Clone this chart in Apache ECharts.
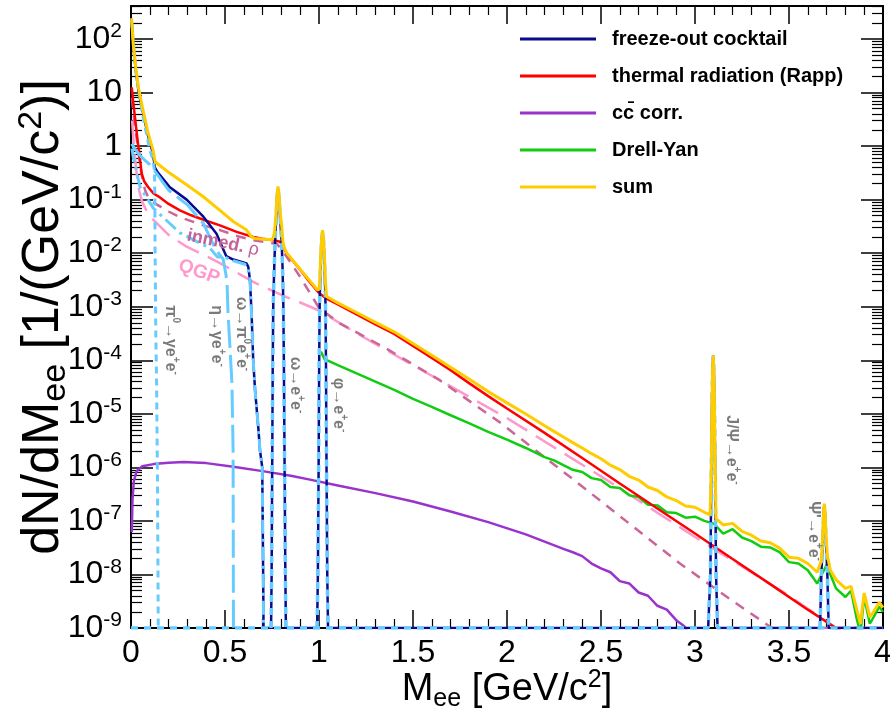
<!DOCTYPE html>
<html><head><meta charset="utf-8">
<script src="https://cdn.jsdelivr.net/npm/echarts@6/dist/echarts.min.js"></script>
<style>html,body{margin:0;padding:0;background:#fff}#c{width:890px;height:717px}</style>
</head><body><div id="c"></div>
<script>
// ---------------- data (M_ee [GeV/c^2], dN/dM_ee) ----------------
const xTickValues = [0, 0.5, 1, 1.5, 2, 2.5, 3, 3.5, 4];
const yDecades = [1e-9, 1e-8, 1e-7, 1e-6, 1e-5, 1e-4, 1e-3, 1e-2, 1e-1, 1, 10, 100];
const legendNames = ['freeze-out cocktail', 'thermal radiation (Rapp)', 'cc\u0304 corr.', 'Drell-Yan', 'sum'];

const cocktail = [[0.003,230],[0.012,75],[0.025,27],[0.04,10.5],[0.064,4.2],[0.09,1.6],[0.117,0.72],[0.127,0.40],[0.14,0.33],[0.207,0.17],[0.296,0.10],[0.385,0.048],[0.455,0.023],[0.49,0.012],[0.507,0.0088],[0.544,0.0076],[0.58,0.0070],[0.615,0.0064],[0.624,0.0055],[0.633,0.0031],[0.642,6.5e-4],[0.65,1e-4],[0.66,2.75e-5],[0.677,5.6e-6],[0.686,2.1e-6],[0.698,1e-6],[0.703,1e-8],[0.705,1e-9],
 [0.745,1e-9],[0.748,1e-8],[0.751,1e-6],[0.754,1e-4],[0.757,1.3e-3],[0.762,0.0055],[0.767,0.0176],[0.772,0.045],[0.777,0.11],[0.782,0.16],[0.787,0.11],[0.792,0.055],[0.797,0.028],[0.801,0.0176],[0.806,0.0055],[0.810,1.3e-3],[0.813,1e-4],[0.817,1e-6],[0.821,1e-8],[0.824,1e-9],
 [0.99,1e-9],[0.994,1e-8],[0.998,1e-6],[1.001,1e-4],[1.004,1.5e-3],[1.009,7e-3],[1.014,0.017],[1.019,0.025],[1.024,0.017],[1.029,7e-3],[1.034,1.5e-3],[1.037,1e-4],[1.040,1e-6],[1.044,1e-8],[1.048,1e-9],
 [3.07,1e-9],[3.082,1e-8],[3.087,1e-6],[3.091,2e-5],[3.094,7e-5],[3.097,1.22e-4],[3.1,7e-5],[3.103,2e-5],[3.107,1e-6],[3.112,1e-8],[3.12,1e-9],
 [3.665,1e-9],[3.672,1e-8],[3.68,5e-8],[3.684,1.3e-7],[3.688,1.9e-7],[3.692,1.3e-7],[3.696,5e-8],[3.704,1e-8],[3.711,1e-9],[4.0,1e-9]];

const pi0Dalitz = [[0.003,220],[0.025,25],[0.064,3.5],[0.10,0.85],[0.117,0.55],[0.125,0.35],[0.127,0.1],[0.128,0.011],[0.132,3e-4],[0.136,4e-5],[0.141,5e-7],[0.145,1e-9]];
const etaDalitz = [[0.003,1.1],[0.03,0.8],[0.06,0.6],[0.1,0.45],[0.13,0.33],[0.2,0.15],[0.3,0.08],[0.385,0.036],[0.44,0.014],[0.47,0.0095],[0.49,0.0078],[0.505,0.004],[0.511,2.8e-3],[0.516,7.6e-4],[0.527,1.6e-4],[0.537,3.7e-5],[0.543,2.1e-6],[0.545,1e-9]];
const omegaDalitz = [[0.005,0.9],[0.012,0.63],[0.048,0.17],[0.119,0.069],[0.26,0.024],[0.42,0.0124],[0.46,0.0085],[0.507,0.0082],[0.544,0.0072],[0.606,0.0062],[0.624,0.0053],[0.633,0.0031],[0.642,6e-4],[0.65,1e-4],[0.66,2.75e-5],[0.677,5.6e-6],[0.686,2.1e-6],[0.698,1e-6],[0.703,1e-8],[0.705,1e-9]];
const omegaEE = [[0.745,1e-9],[0.748,1e-8],[0.751,1e-6],[0.754,1e-4],[0.757,1.3e-3],[0.762,0.0055],[0.767,0.0176],[0.772,0.045],[0.777,0.11],[0.782,0.16],[0.787,0.11],[0.792,0.055],[0.797,0.028],[0.801,0.0176],[0.806,0.0055],[0.810,1.3e-3],[0.813,1e-4],[0.817,1e-6],[0.821,1e-8],[0.824,1e-9]];
const phiEE = [[0.99,1e-9],[0.994,1e-8],[0.998,1e-6],[1.001,1e-4],[1.004,1.5e-3],[1.009,7e-3],[1.014,0.017],[1.019,0.025],[1.024,0.017],[1.029,7e-3],[1.034,1.5e-3],[1.037,1e-4],[1.040,1e-6],[1.044,1e-8],[1.048,1e-9]];
const jpsiEE = [[0,1e-9],[3.07,1e-9],[3.082,1e-8],[3.087,1e-6],[3.091,2e-5],[3.094,7e-5],[3.097,1.22e-4],[3.1,7e-5],[3.103,2e-5],[3.107,1e-6],[3.112,1e-8],[3.12,1e-9],[4.0,1e-9]];
const psi2sEE = [[3.665,1e-9],[3.672,1e-8],[3.68,5e-8],[3.684,1.3e-7],[3.688,1.9e-7],[3.692,1.3e-7],[3.696,5e-8],[3.704,1e-8],[3.711,1e-9]];

const thermal = [[0.004,12.5],[0.012,6.5],[0.021,3.5],[0.03,1.8],[0.039,1.0],[0.048,0.55],[0.057,0.31],[0.07,0.22],[0.092,0.17],[0.12,0.13],[0.154,0.11],[0.2,0.083],[0.26,0.063],[0.32,0.051],[0.385,0.042],[0.473,0.033],[0.562,0.025],[0.65,0.020],[0.70,0.0186],[0.757,0.0175],[0.793,0.0163],[0.81,0.013],[0.828,0.0099],[0.9,0.0049],[0.95,0.0029],[1.0,0.0018],[1.04,0.00141],[1.1,1.10e-3],[1.2,7.2e-4],[1.3,4.7e-4],[1.4,3.1e-4],[1.5,1.86e-4],[1.6,1.10e-4],[1.7,6.5e-5],[1.8,3.7e-5],[1.9,2.14e-5],[2.0,1.26e-5],[2.2,4.4e-6],[2.4,1.5e-6],[2.6,5.0e-7],[2.8,1.7e-7],[3.0,5.8e-8],[3.2,1.95e-8],[3.4,6.6e-9],[3.6,2.2e-9],[3.75,1.0e-9],[3.8,7.6e-10]];
const inmedRho = [[0.005,8],[0.012,4.5],[0.02,2.5],[0.03,1.4],[0.039,0.8],[0.05,0.4],[0.06,0.25],[0.075,0.15],[0.092,0.11],[0.12,0.088],[0.154,0.075],[0.2,0.06],[0.26,0.047],[0.385,0.033],[0.473,0.027],[0.562,0.021],[0.65,0.0175],[0.72,0.016],[0.775,0.015],[0.80,0.012],[0.83,0.0084],[0.9,0.0036],[1.0,9.5e-4],[1.11,4.9e-4],[1.34,1.8e-4],[1.64,4.3e-5],[1.96,7e-6],[2.4,4.4e-7],[2.92,1.6e-8],[3.2,3.2e-9],[3.41,1e-9],[4.0,1e-9]];
const qgp = [[0.006,3.0],[0.015,1.0],[0.025,0.45],[0.039,0.17],[0.06,0.09],[0.09,0.055],[0.119,0.042],[0.2,0.022],[0.296,0.0132],[0.4,0.0088],[0.473,0.0065],[0.55,0.0046],[0.65,0.0029],[0.75,0.0020],[0.83,0.0015],[0.9,0.0012],[1.0,8.5e-4],[1.2,3.2e-4],[1.5,8.1e-5],[2.0,8.3e-6],[2.5,6.8e-7],[3.0,5e-8],[3.5,4e-9],[3.75,1e-9],[4.0,1e-9]];
const ccbar = [[0.004,6.2e-8],[0.008,2.5e-7],[0.015,5.5e-7],[0.03,8.5e-7],[0.06,1.05e-6],[0.12,1.15e-6],[0.2,1.22e-6],[0.28,1.26e-6],[0.4,1.2e-6],[0.544,1.03e-6],[0.7,8.5e-7],[0.85,7e-7],[0.952,5.9e-7],[1.1,4.6e-7],[1.3,3.3e-7],[1.5,2.3e-7],[1.7,1.5e-7],[1.9,9.5e-8],[2.1,5.6e-8],[2.3,3.0e-8],[2.35,2.6e-8],[2.4,2.2e-8],[2.45,1.6e-8],[2.5,1.3e-8],[2.55,1.1e-8],[2.6,7.5e-9],[2.65,6.8e-9],[2.7,4.6e-9],[2.75,4.0e-9],[2.8,2.6e-9],[2.85,2.2e-9],[2.9,1.4e-9],[2.94,1.1e-9],[2.97,8e-10]];
const drellYan = [[1.01,1.45e-4],[1.03,1.05e-4],[1.1,8.1e-5],[1.2,5.7e-5],[1.3,4.0e-5],[1.4,2.8e-5],[1.5,1.9e-5],[1.6,1.35e-5],[1.7,9.4e-6],[1.8,6.6e-6],[1.9,4.6e-6],[2.0,3.3e-6],[2.1,2.3e-6],[2.2,1.55e-6],[2.25,1.35e-6],[2.30,1.10e-6],[2.35,9.0e-7],[2.40,8.2e-7],[2.45,6.3e-7],[2.50,5.8e-7],[2.55,4.3e-7],[2.60,4.1e-7],[2.65,3.0e-7],[2.70,2.8e-7],[2.75,2.0e-7],[2.80,1.95e-7],[2.85,1.45e-7],[2.90,1.40e-7],[2.95,1.15e-7],[3.00,1.20e-7],[3.05,1.0e-7],[3.10,8.9e-8],[3.15,5.8e-8],[3.20,7.0e-8],[3.25,4.9e-8],[3.30,4.2e-8],[3.35,3.3e-8],[3.40,3.2e-8],[3.45,2.6e-8],[3.50,1.7e-8],[3.55,1.6e-8],[3.60,1.2e-8],[3.65,6.8e-9],[3.70,1.5e-8],[3.75,5.5e-9],[3.80,3.8e-9],[3.83,5.0e-9],[3.86,1.5e-9],[3.88,8e-10],[3.90,3.8e-9],[3.93,1.2e-9],[3.95,1.6e-9],[3.98,2.5e-9],[4.00,2.0e-9]];
const sumAll = [[0.003,245],[0.012,80],[0.025,30],[0.04,12],[0.064,4.7],[0.09,1.8],[0.117,0.85],[0.128,0.51],[0.207,0.31],[0.296,0.19],[0.385,0.113],[0.473,0.063],[0.544,0.039],[0.615,0.027],[0.642,0.020],[0.66,0.0188],[0.70,0.0183],[0.752,0.0178],[0.757,0.019],[0.762,0.023],[0.767,0.035],[0.772,0.062],[0.777,0.127],[0.782,0.177],[0.787,0.127],[0.792,0.072],[0.797,0.045],[0.801,0.034],[0.806,0.02],[0.81,0.015],[0.815,0.0128],[0.828,0.0101],[0.9,0.0050],[0.99,0.0021],[1.001,0.0021],[1.004,0.0032],[1.009,0.0088],[1.014,0.0187],[1.019,0.027],[1.024,0.0187],[1.029,0.0087],[1.034,0.0031],[1.04,0.00155],[1.1,1.18e-3],[1.2,7.8e-4],[1.3,5.1e-4],[1.4,3.4e-4],[1.5,2.05e-4],[1.6,1.24e-4],[1.7,7.4e-5],[1.8,4.4e-5],[1.9,2.6e-5],[2.0,1.6e-5],[2.1,9.9e-6],[2.2,6.0e-6],[2.25,4.7e-6],[2.3,3.7e-6],[2.35,2.9e-6],[2.4,2.3e-6],[2.45,1.8e-6],[2.5,1.45e-6],[2.55,1.1e-6],[2.6,9.1e-7],[2.65,6.8e-7],[2.7,5.8e-7],[2.75,4.3e-7],[2.8,3.7e-7],[2.85,2.8e-7],[2.9,2.4e-7],[2.95,1.9e-7],[3.0,1.8e-7],[3.05,1.45e-7],[3.08,1.3e-7],[3.087,1.1e-6],[3.091,2e-5],[3.094,7e-5],[3.097,1.24e-4],[3.1,7e-5],[3.103,2e-5],[3.107,1.1e-6],[3.112,1.1e-7],[3.15,8.4e-8],[3.2,9.0e-8],[3.25,6.4e-8],[3.3,5.4e-8],[3.35,4.2e-8],[3.4,3.9e-8],[3.45,3.1e-8],[3.5,2.1e-8],[3.55,2.0e-8],[3.6,1.6e-8],[3.65,1.1e-8],[3.672,1.8e-8],[3.68,6e-8],[3.684,1.45e-7],[3.688,2.1e-7],[3.692,1.45e-7],[3.696,6.5e-8],[3.704,2.3e-8],[3.72,1.2e-8],[3.75,8e-9],[3.8,5.5e-9],[3.83,6e-9],[3.86,2.2e-9],[3.88,1.2e-9],[3.9,4.5e-9],[3.93,1.6e-9],[3.95,2.0e-9],[3.98,3.0e-9],[4.0,2.4e-9]];

// ---------------- chart ----------------
const FONT = '"Liberation Sans", Arial, Helvetica, sans-serif';
const yMinor = [];
yDecades.forEach(d => { for (let k = 2; k <= 9; k++) { const v = d * k; if (v < 413) yMinor.push(v); } });

function powLabel(v) {
  const e = Math.round(Math.log10(v));
  if (Math.abs(Math.log10(v) - e) > 1e-6) return '';
  if (e === 0) return '{b|1}';
  if (e === 1) return '{b|10}';
  return '{b|10}{s|' + e + '}';
}

const LB = '#66CCFF', NAVY = '#0A0A8C';
function line(name, data, color, width, type, extra) {
  return Object.assign({
    name, type: 'line', data, color, showSymbol: false, symbol: 'none', animation: false, silent: true,
    xAxisIndex: 0, yAxisIndex: 0, clip: true,
    lineStyle: { color, width, type: type || 'solid' }
  }, extra || {});
}

const yBase = { type: 'log', logBase: 10, min: 1e-9, max: 413, splitLine: { show: false }, minorTick: { show: false } };
const blackLine = { show: true, lineStyle: { color: '#000', width: 2 } };

const option = {
  animation: false,
  backgroundColor: '#fff',
  grid: { left: 131, right: 7, top: 6, bottom: 89, containLabel: false, outerBoundsMode: 'none' },
  xAxis: [
    { type: 'value', min: xTickValues[0], max: xTickValues[xTickValues.length - 1], interval: xTickValues[1] - xTickValues[0], position: 'bottom',
      axisLine: blackLine, splitLine: { show: false },
      axisTick: { show: true, inside: true, length: 18, lineStyle: { color: '#000', width: 1.5 } },
      minorTick: { show: true, splitNumber: 5, length: 9, lineStyle: { color: '#000', width: 1.2 } },
      axisLabel: { show: true, color: '#000', fontSize: 32, fontFamily: FONT, margin: 9, showMinLabel: true, showMaxLabel: true },
      name: '{t|M}{sub|ee}{t| [GeV/c}{sup|2}{t|]}', nameLocation: 'middle', nameGap: 40, nameMoveOverlap: false,
      nameTextStyle: { rich: {
        t: { fontSize: 38, fontFamily: FONT, color: '#000', lineHeight: 44 },
        sub: { fontSize: 25, fontFamily: FONT, color: '#000', verticalAlign: 'bottom', lineHeight: 25 },
        sup: { fontSize: 25, fontFamily: FONT, color: '#000', verticalAlign: 'top', lineHeight: 25 } } } },
    { type: 'value', min: xTickValues[0], max: xTickValues[xTickValues.length - 1], interval: xTickValues[1] - xTickValues[0], position: 'top',
      axisLine: blackLine, splitLine: { show: false },
      axisTick: { show: true, inside: true, length: 18, lineStyle: { color: '#000', width: 1.5 } },
      minorTick: { show: true, splitNumber: 5, length: 9, lineStyle: { color: '#000', width: 1.2 } },
      axisLabel: { show: false } }
  ],
  yAxis: [
    Object.assign({}, yBase, { position: 'left', axisLine: blackLine,
      axisTick: { show: true, inside: true, length: 22, customValues: yDecades, lineStyle: { color: '#000', width: 1.5 } },
      axisLabel: { show: true, customValues: yDecades, formatter: powLabel, margin: 9, color: '#000',
        rich: { b: { fontSize: 32, fontFamily: FONT, color: '#000', lineHeight: 36 },
                s: { fontSize: 21, fontFamily: FONT, color: '#000', verticalAlign: 'top', lineHeight: 24 } } },
      name: '{t|dN/dM}{sub|ee}{t| [1/(GeV/c}{sup|2}{t|)]}', nameLocation: 'middle', nameRotate: 90, nameGap: 58, nameMoveOverlap: false,
      nameTextStyle: { rich: {
        t: { fontSize: 52, fontFamily: FONT, color: '#000', lineHeight: 58 },
        sub: { fontSize: 34, fontFamily: FONT, color: '#000', verticalAlign: 'bottom', lineHeight: 34 },
        sup: { fontSize: 34, fontFamily: FONT, color: '#000', verticalAlign: 'top', lineHeight: 34 } } } }),
    Object.assign({}, yBase, { position: 'left', axisLine: { show: false },
      axisTick: { show: true, inside: true, length: 11, customValues: yMinor, lineStyle: { color: '#000', width: 1.2 } },
      axisLabel: { show: false } }),
    Object.assign({}, yBase, { position: 'right', axisLine: blackLine,
      axisTick: { show: true, inside: true, length: 22, customValues: yDecades, lineStyle: { color: '#000', width: 1.5 } },
      axisLabel: { show: false } }),
    Object.assign({}, yBase, { position: 'right', axisLine: { show: false },
      axisTick: { show: true, inside: true, length: 11, customValues: yMinor, lineStyle: { color: '#000', width: 1.2 } },
      axisLabel: { show: false } })
  ],
  legend: {
    data: legendNames, orient: 'vertical', left: 520, top: 27, padding: 0, itemWidth: 76, itemHeight: 3, itemGap: 13,
    icon: 'rect', selectedMode: false,
    textStyle: { fontSize: 20, fontWeight: 'bold', fontFamily: FONT, color: '#000', lineHeight: 24, padding: [0, 0, 0, 11] }
  },
  series: [
    line('QGP', qgp, '#FF99CC', 2.5, [24, 10]),
    line('inmed. rho', inmedRho, '#CC6699', 2.5, [10, 8]),
    line(legendNames[2], ccbar, '#9933CC', 2.5),
    line(legendNames[3], drellYan, '#11CC11', 2.5),
    line(legendNames[1], thermal, '#FF0000', 2.5),
    line(legendNames[0], cocktail, NAVY, 2.5),
    line('pi0 Dalitz', pi0Dalitz, LB, 3, [7, 5]),
    line('eta Dalitz', etaDalitz, LB, 3, [28, 7]),
    line('omega Dalitz', omegaDalitz, LB, 3, [14, 5, 3, 5]),
    line('omega ee', omegaEE, LB, 3.5, [7, 6]),
    line('phi ee', phiEE, LB, 3.5, [7, 6]),
    line('J/psi ee', jpsiEE, LB, 3.5, [7, 6]),
    line('psi2S ee', psi2sEE, LB, 3.5, [7, 6]),
    line(legendNames[4], sumAll, '#FFCC00', 3)
  ],
  graphic: []
};

const annGray = '#7a7a7a';
function ann(x, y, parts, size, color, rot) {
  return { type: 'text', x, y, rotation: rot, z: 100, silent: true,
    style: { text: parts, align: 'center', verticalAlign: 'middle', fill: color,
      rich: {
        n: { fontSize: size, fontWeight: 'bold', fontFamily: FONT, fill: color, lineHeight: size + 6 },
        g: { fontSize: size, fontWeight: 'normal', fontFamily: FONT, fill: color, lineHeight: size + 6 },
        s: { fontSize: Math.round(size * 0.65), fontWeight: 'bold', fontFamily: FONT, fill: color, verticalAlign: 'top', lineHeight: Math.round(size * 0.7) }
      } } };
}
const R = -Math.PI / 2;
option.graphic = [
  ann(170, 340, '{n|π}{s|0}{n|→γe}{s|+}{n|e}{s|-}', 16, annGray, R),
  ann(216, 336, '{n|η→γe}{s|+}{n|e}{s|-}', 16, annGray, R),
  ann(241, 334, '{n|ω→π}{s|0}{n|e}{s|+}{n|e}{s|-}', 16, annGray, R),
  ann(295, 385, '{n|ω→e}{s|+}{n|e}{s|-}', 16, annGray, R),
  ann(338, 405, '{n|φ→e}{s|+}{n|e}{s|-}', 16, annGray, R),
  ann(731, 450, '{n|J/Ψ→e}{s|+}{n|e}{s|-}', 16, annGray, R),
  ann(813, 531, '{n|Ψ\'→e}{s|+}{n|e}{s|-}', 16, annGray, R),
  ann(223, 243, '{n|inmed. }{g|ρ}', 18, '#C2629A', -0.21),
  ann(199, 272, '{n|QGP}', 19, '#FF99CC', -0.35)
];

const chart = echarts.init(document.getElementById('c'), null, { renderer: 'canvas', width: 890, height: 717 });
chart.setOption(option);
</script></body></html>
